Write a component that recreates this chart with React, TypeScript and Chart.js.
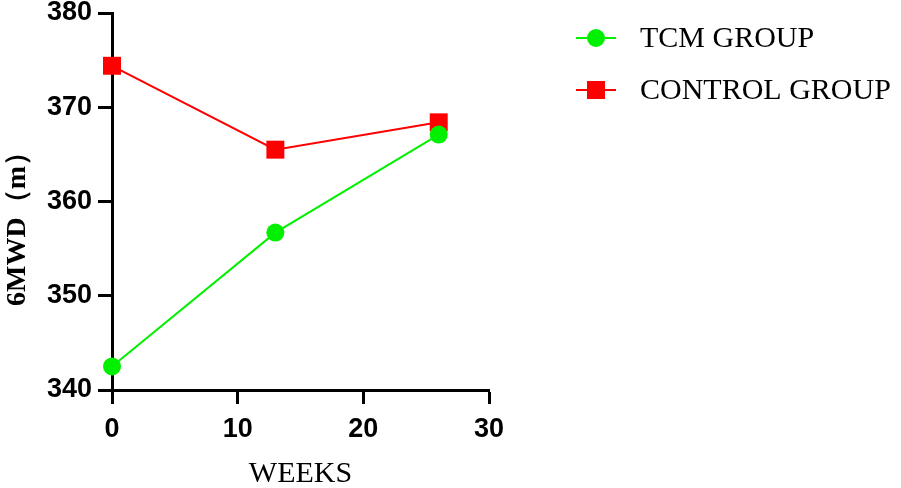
import React, { useEffect, useRef } from 'react';
import { Chart, registerables } from 'chart.js';

Chart.register(...registerables);

const weeks = [0, 13, 26];
const tcmValues = [342.5, 356.7, 367.1];
const controlValues = [374.4, 365.5, 368.4];
const xTicks = [0, 10, 20, 30];
const yTicks = [340, 350, 360, 370, 380];
const seriesLabels = ['TCM GROUP', 'CONTROL GROUP'];

const GREEN = '#00f000';
const RED = '#ff0000';

const App = () => {
  const canvasRef = useRef<HTMLCanvasElement>(null);

  useEffect(() => {
    document.body.style.margin = '0';
    if (!canvasRef.current) return;
    const ctx = canvasRef.current.getContext('2d');
    if (!ctx) return;

    const extras = {
      id: 'extras',
      afterDraw(chart: any) {
        const c = chart.ctx;
        c.save();
        // y title
        c.fillStyle = '#000';
        c.font = 'bold 28px "Liberation Serif"';
        c.textAlign = 'center';
        c.textBaseline = 'middle';
        c.translate(18, 222);
        c.rotate(-Math.PI / 2);
        c.fillText('6MWD（m）', 0, 0);
        c.restore();

        c.save();
        c.fillStyle = '#000';
        c.font = '30px "Liberation Serif"';
        c.textAlign = 'center';
        c.textBaseline = 'middle';
        c.fillText('WEEKS', (chart.chartArea.left + chart.chartArea.right) / 2, 474);

        // legend
        const colors = [GREEN, RED];
        const rows = [38, 90];
        seriesLabels.forEach((label, i) => {
          const y = rows[i];
          c.strokeStyle = colors[i];
          c.lineWidth = 2;
          c.beginPath();
          c.moveTo(576, y);
          c.lineTo(616, y);
          c.stroke();
          c.fillStyle = colors[i];
          if (i === 0) {
            c.beginPath();
            c.arc(596, y, 9, 0, Math.PI * 2);
            c.fill();
          } else {
            c.fillRect(587, y - 9, 18, 18);
          }
          c.fillStyle = '#000';
          c.textAlign = 'left';
          c.fillText(label, 640, y + 1);
        });
        c.restore();
      },
    };

    const chart = new Chart(ctx, {
      type: 'line',
      data: {
        datasets: [
          {
            label: seriesLabels[0],
            data: weeks.map((w, i) => ({ x: w, y: tcmValues[i] })),
            borderColor: GREEN,
            backgroundColor: GREEN,
            borderWidth: 2,
            pointStyle: 'circle',
            pointRadius: 9,
            pointBorderWidth: 0,
            clip: false,
          },
          {
            label: seriesLabels[1],
            data: weeks.map((w, i) => ({ x: w, y: controlValues[i] })),
            borderColor: RED,
            backgroundColor: RED,
            borderWidth: 2,
            pointStyle: 'rect',
            pointRadius: 12.7,
            pointBorderWidth: 0,
            clip: false,
          },
        ],
      },
      options: {
        animation: false,
        responsive: false,
        layout: { padding: { left: 0, top: 13, right: 412, bottom: 0 } },
        plugins: { legend: { display: false }, tooltip: { enabled: false } },
        scales: {
          x: {
            type: 'linear',
            min: xTicks[0],
            max: xTicks[xTicks.length - 1],
            afterBuildTicks: (axis: any) => {
              axis.ticks = xTicks.map((v) => ({ value: v }));
            },
            afterFit: (axis: any) => {
              axis.height = 98;
              axis.paddingLeft = 0;
              axis.paddingRight = 0;
            },
            border: { display: true, color: '#000', width: 3 },
            grid: {
              drawOnChartArea: false,
              drawTicks: true,
              tickLength: 14,
              tickWidth: 3,
              tickColor: '#000',
            },
            ticks: {
              color: '#000',
              padding: 9,
              font: { family: '"Liberation Sans"', size: 27, weight: 'bold' },
              maxRotation: 0,
            },
          },
          y: {
            type: 'linear',
            min: yTicks[0],
            max: yTicks[yTicks.length - 1],
            afterBuildTicks: (axis: any) => {
              axis.ticks = yTicks.map((v) => ({ value: v }));
            },
            afterFit: (axis: any) => {
              axis.width = 112;
              axis.paddingTop = 0;
              axis.paddingBottom = 0;
            },
            border: { display: true, color: '#000', width: 3 },
            grid: {
              drawOnChartArea: false,
              drawTicks: true,
              tickLength: 14,
              tickWidth: 3,
              tickColor: '#000',
            },
            ticks: {
              color: '#000',
              padding: 6,
              font: { family: '"Liberation Sans"', size: 27, weight: 'bold' },
            },
          },
        },
      },
      plugins: [extras],
    });

    return () => {
      chart.destroy();
    };
  }, []);

  return (
    <div style={{ width: 901, height: 488, background: '#fff' }}>
      <canvas ref={canvasRef} width={901} height={488} style={{ display: 'block' }}></canvas>
    </div>
  );
};

export default App;
